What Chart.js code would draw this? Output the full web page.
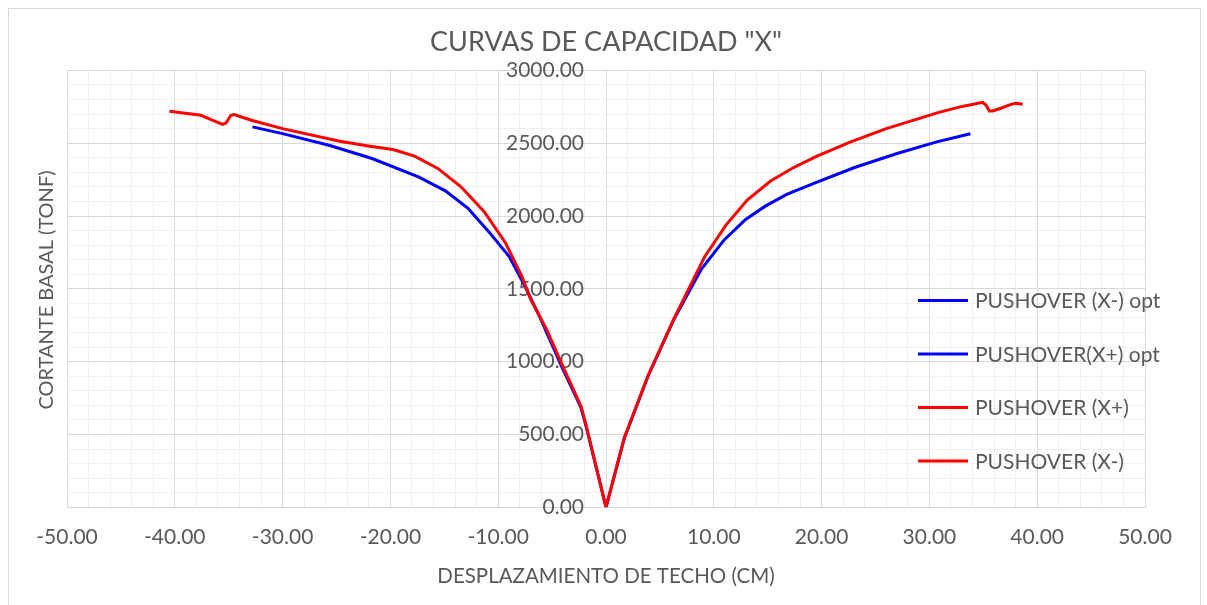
<!DOCTYPE html>
<html>
<head>
<meta charset="utf-8">
<title>Curvas de capacidad X</title>
<script src="https://cdn.jsdelivr.net/npm/chart.js@4.4.1/dist/chart.umd.min.js"></script>
<style>
	html, body { margin: 0; padding: 0; background: #fff; }
	#wrap { position: relative; width: 1207px; height: 605px; overflow: hidden; }
	#frame { position: absolute; left: 8px; top: 8px; width: 1191px; height: 640px; border: 1px solid #d9d9d9; }
	#chart { position: absolute; left: 0; top: 0; }
</style>
</head>
<body>
<div id="wrap">
	<div id="frame"></div>
	<canvas id="chart" width="1207" height="605"></canvas>
</div>
<script>
// chart data
const chartTitle = 'CURVAS DE CAPACIDAD "X"';
const xTitle = 'DESPLAZAMIENTO DE TECHO (CM)';
const yTitle = 'CORTANTE BASAL (TONF)';

const seriesNames = ['PUSHOVER (X-) opt', 'PUSHOVER(X+) opt', 'PUSHOVER (X+)', 'PUSHOVER (X-)'];
const seriesColors = ['#0000ff', '#0000ff', '#ff0000', '#ff0000'];

// x axis: -50 .. 50, labels every 10, minor grid every 2
const xLimits = [-50, 50];
const xMajorStep = 10;
const xMinorStep = 2;
// y axis: 0 .. 3000, labels every 500, minor grid every 100
const yLimits = [0, 3000];
const yMajorStep = 500;
const yMinorStep = 100;

// PUSHOVER (X-) opt
const xNegOptX = [0, -1.86, -2.35, -4.1, -6.16, -7.5, -8.98, -10.8, -12.8, -14.9, -17.4, -21.7, -25.7, -30.0, -32.8];
const xNegOptY = [0, 560, 690, 965, 1310, 1516, 1721, 1886, 2053, 2173, 2269, 2395, 2486, 2566, 2612];

// PUSHOVER(X+) opt
const xPosOptX = [0, 1.7, 3.9, 6.33, 8.8, 10.96, 12.95, 14.78, 16.76, 19.4, 23.06, 27.0, 30.68, 33.8];
const xPosOptY = [0, 475, 900, 1295, 1630, 1836, 1977, 2068, 2148, 2228, 2333, 2429, 2509, 2565];

// PUSHOVER (X+)
const xPosX = [0, 1.7, 3.9, 6.33, 9.15, 11.13, 13.1, 15.27, 17.4, 19.57, 22.7, 26.0, 30.8, 32.93, 34.94, 35.25, 35.56, 35.87, 36.64, 37.57, 38.03, 38.65];
const xPosY = [0, 477, 905, 1299, 1721, 1938, 2110, 2240, 2333, 2411, 2509, 2600, 2710, 2751, 2781, 2762, 2721, 2721, 2740, 2767, 2774, 2767];

// PUSHOVER (X-)
const xNegX = [0, -1.86, -2.32, -4.0, -5.5, -7.0, -7.8, -9.3, -11.3, -13.45, -15.6, -17.75, -19.76, -21.9, -24.7, -30.0, -32.9, -34.5, -34.8, -35.25, -35.56, -36.64, -37.57, -40.5];
const xNegY = [0, 568, 694, 968, 1220, 1430, 1584, 1813, 2030, 2201, 2327, 2411, 2457, 2479, 2514, 2600, 2658, 2697, 2692, 2639, 2630, 2662, 2692, 2719];

const FONT = 'Lato, "Open Sans", sans-serif';
const TEXT = '#595959';
const GRID_MAJOR = '#d9d9d9';
const GRID_MINOR = '#f0f0f0';

const pts = (xs, ys) => xs.map((x, i) => ({ x, y: ys[i] }));
const isMultiple = (v, step) => Math.abs(v / step - Math.round(v / step)) < 1e-6;

const seriesPoints = [
	pts(xNegOptX, xNegOptY),
	pts(xPosOptX, xPosOptY),
	pts(xPosX, xPosY),
	pts(xNegX, xNegY)
];

// y axis title and the legend sit inside the plot, like the excel original
const extras = {
	id: 'extras',
	afterDraw(chart){
		const ctx = chart.ctx;
		ctx.save();
		ctx.fillStyle = TEXT;
		ctx.font = '20px ' + FONT;
		ctx.textAlign = 'center';
		ctx.textBaseline = 'middle';
		ctx.translate(47, 290);
		ctx.rotate(-Math.PI / 2);
		ctx.fillText(yTitle, 0, 0);
		ctx.restore();

		ctx.save();
		ctx.font = '21px ' + FONT;
		ctx.textBaseline = 'middle';
		ctx.textAlign = 'left';
		chart.data.datasets.forEach((ds, i) => {
			const y = 300.5 + i * 53.5;
			ctx.strokeStyle = ds.borderColor;
			ctx.lineWidth = 3;
			ctx.beginPath();
			ctx.moveTo(918, y);
			ctx.lineTo(968, y);
			ctx.stroke();
			ctx.fillStyle = TEXT;
			ctx.fillText(ds.label, 975, y + 1);
		});
		ctx.restore();
	}
};

function draw(){
	new Chart(document.getElementById('chart'), {
		type: 'scatter',
		data: {
			datasets: seriesNames.map((name, i) => ({
				label: name,
				data: seriesPoints[i],
				showLine: true,
				borderColor: seriesColors[i],
				backgroundColor: seriesColors[i],
				borderWidth: 3,
				pointRadius: 0,
				tension: 0,
				order: seriesColors[i] === '#ff0000' ? 1 : 2
			}))
		},
		options: {
			responsive: false,
			animation: false,
			layout: { padding: { left: 67, right: 62, top: 0, bottom: 18 } },
			plugins: {
				legend: { display: false },
				tooltip: { enabled: false },
				title: {
					display: true,
					text: chartTitle,
					color: TEXT,
					font: { family: FONT, size: 27, weight: 'normal' },
					padding: { top: 26, bottom: 12 }
				}
			},
			scales: {
				x: {
					type: 'linear',
					position: 'bottom',
					min: xLimits[0],
					max: xLimits[1],
					grid: {
						drawTicks: false,
						color: (c) => isMultiple(c.tick.value, xMajorStep) ? GRID_MAJOR : GRID_MINOR
					},
					border: { color: GRID_MAJOR },
					ticks: {
						stepSize: xMinorStep,
						autoSkip: false,
						maxRotation: 0,
						padding: 17,
						color: TEXT,
						font: { family: FONT, size: 21 },
						callback: (v) => isMultiple(v, xMajorStep) ? v.toFixed(2) : ''
					},
					title: {
						display: true,
						text: xTitle,
						color: TEXT,
						font: { family: FONT, size: 20.5, lineHeight: 1 },
						padding: { top: 0, bottom: 0 }
					}
				},
				y: {
					type: 'linear',
					// labels hang just left of the zero line (about 22px, ~2 cm on this scale);
					// the zero line itself comes from the x grid
					position: { x: -2.04 },
					min: yLimits[0],
					max: yLimits[1],
					grid: {
						drawTicks: false,
						color: (c) => isMultiple(c.tick.value, yMajorStep) ? GRID_MAJOR : GRID_MINOR
					},
					border: { display: false },
					ticks: {
						stepSize: yMinorStep,
						autoSkip: false,
						padding: 0,
						color: TEXT,
						font: { family: FONT, size: 21 },
						callback: (v) => isMultiple(v, yMajorStep) ? v.toFixed(2) : ''
					}
				}
			}
		},
		plugins: [extras]
	});
}

document.fonts.load('21px Lato').then(draw, draw);
</script>
</body>
</html>
